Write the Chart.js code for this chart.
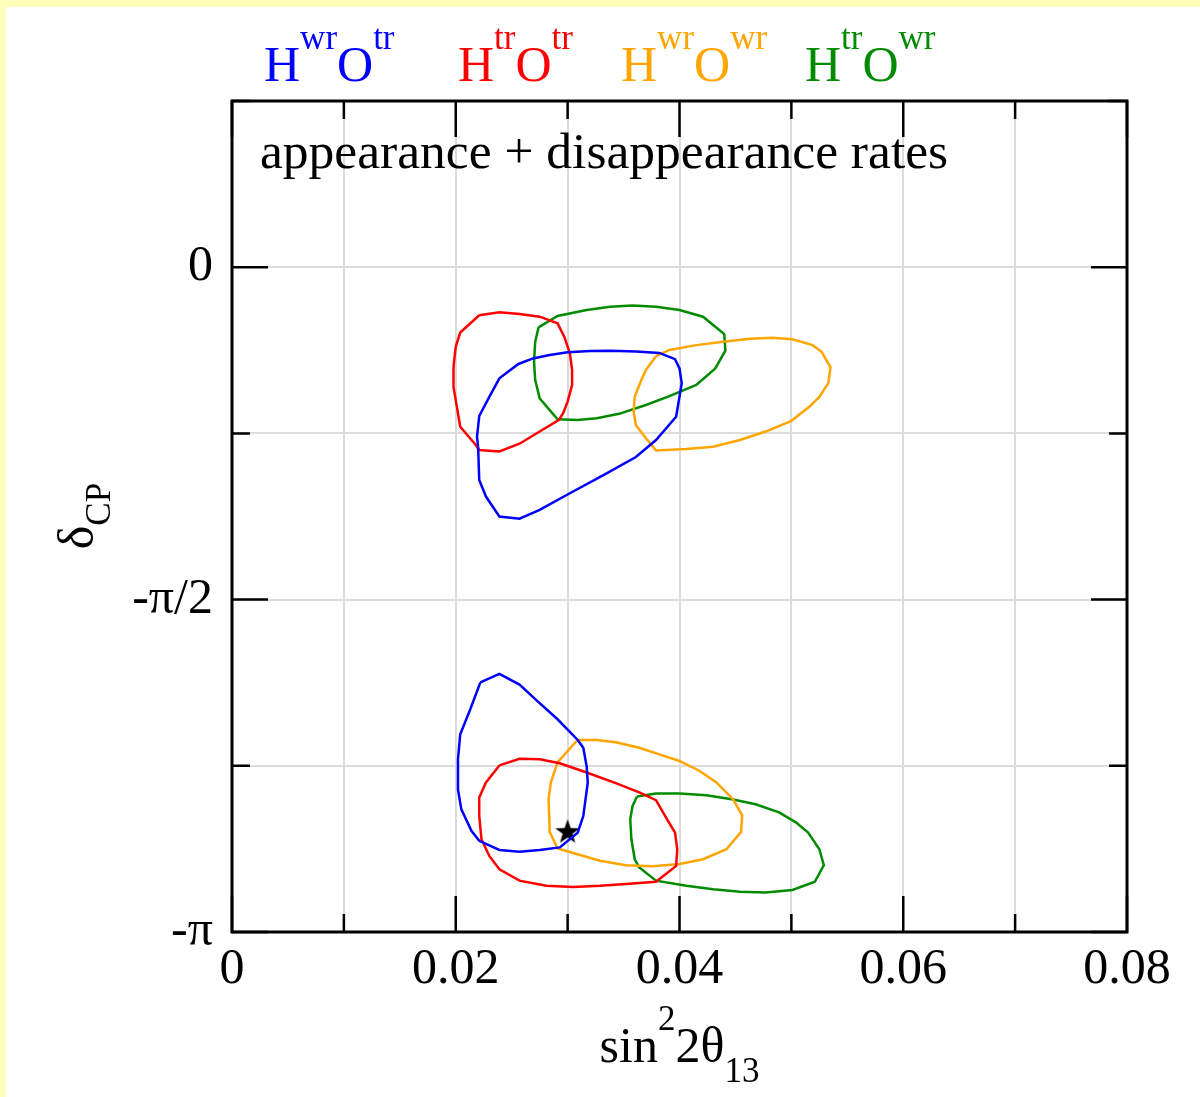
<!DOCTYPE html>
<html>
<head>
<meta charset="utf-8">
<script src="https://cdn.jsdelivr.net/npm/chart.js@4.4.1/dist/chart.umd.min.js"></script>
<style>
  html, body { margin: 0; padding: 0; background: #fff; }
  canvas { display: block; }
</style>
</head>
<body>
<canvas id="c" width="1200" height="1097"></canvas>
<script>
// sin^2(2 theta13) vs delta_CP (degrees), allowed regions for the four
// hierarchy / octant combinations

const xTicks = [0, 0.01, 0.02, 0.03, 0.04, 0.05, 0.06, 0.07, 0.08];
const xTickLabels = ['0', '', '0.02', '', '0.04', '', '0.06', '', '0.08'];
const yTicks = [-180, -135, -90, -45, 0, 45];
const yTickLabels = ['-π', '', '-π/2', '', '0', ''];

// [sin^2 2theta13, deltaCP in degrees]
const blueUpper = [
  [0.0220, -48.6], [0.0221, -57.6], [0.0227, -62.1], [0.0239, -67.5], [0.0257, -68.1],
  [0.0275, -65.7], [0.0302, -61.2], [0.0332, -56.3], [0.0361, -51.4], [0.0379, -46.8],
  [0.0397, -40.5], [0.0401, -33.2], [0.0402, -31.4], [0.0400, -27.4], [0.0396, -24.9],
  [0.0382, -23.2], [0.0361, -22.8], [0.0339, -22.6], [0.0320, -22.7], [0.0300, -23.0],
  [0.0284, -23.8], [0.0269, -24.7], [0.0256, -26.2], [0.0239, -30.1], [0.0230, -35.1],
  [0.0221, -40.3], [0.0219, -45.9]
];
const blueLower = [
  [0.0222, -112.4], [0.0239, -110.1], [0.0257, -113.0], [0.0273, -117.5], [0.0291, -122.4],
  [0.0309, -128.0], [0.0314, -130.1], [0.0317, -135.1], [0.0318, -139.5], [0.0316, -144.1],
  [0.0314, -148.6], [0.0309, -153.1], [0.0293, -157.1], [0.0275, -157.8], [0.0257, -158.3],
  [0.0239, -157.8], [0.0221, -155.3], [0.0214, -152.6], [0.0205, -146.8], [0.0202, -141.4],
  [0.0202, -133.2], [0.0204, -126.5], [0.0213, -119.7]
];
const redUpper = [
  [0.0221, -13.0], [0.0239, -12.2], [0.0257, -12.7], [0.0275, -13.4], [0.0291, -15.2],
  [0.0297, -18.8], [0.0302, -23.3], [0.0304, -27.8], [0.0304, -31.9], [0.0300, -36.4],
  [0.0296, -39.5], [0.0292, -41.4], [0.0275, -44.5], [0.0257, -47.8], [0.0239, -49.9],
  [0.0221, -49.5], [0.0217, -47.8], [0.0204, -43.2], [0.0201, -37.8], [0.0198, -32.4],
  [0.0198, -27.0], [0.0200, -21.5], [0.0204, -17.7]
];
const redLower = [
  [0.0239, -134.9], [0.0257, -133.1], [0.0275, -133.2], [0.0293, -134.3], [0.0317, -136.8],
  [0.0343, -139.7], [0.0364, -142.2], [0.0379, -144.3], [0.0388, -149.0], [0.0396, -153.1],
  [0.0398, -157.6], [0.0397, -162.1], [0.0379, -166.4], [0.0352, -167.0], [0.0329, -167.5],
  [0.0305, -167.8], [0.0281, -167.5], [0.0257, -166.1], [0.0239, -163.0], [0.0230, -159.4],
  [0.0223, -154.9], [0.0221, -148.6], [0.0221, -143.6], [0.0227, -139.5]
];
const orangeUpper = [
  [0.0379, -24.1], [0.0391, -22.4], [0.0415, -21.1], [0.0439, -20.2], [0.0463, -19.4],
  [0.0483, -19.1], [0.0501, -19.5], [0.0519, -21.1], [0.0527, -22.9], [0.0535, -27.1],
  [0.0533, -31.4], [0.0525, -35.1], [0.0516, -37.8], [0.0500, -41.6], [0.0477, -44.5],
  [0.0454, -46.8], [0.0430, -48.6], [0.0406, -49.2], [0.0379, -49.6], [0.0370, -46.3],
  [0.0361, -42.7], [0.0359, -39.1], [0.0360, -35.1], [0.0366, -30.5], [0.0370, -27.8]
];
const orangeLower = [
  [0.0309, -128.0], [0.0326, -128.0], [0.0343, -128.6], [0.0364, -130.1], [0.0382, -131.9],
  [0.0400, -133.7], [0.0418, -136.4], [0.0433, -139.5], [0.0448, -144.1], [0.0456, -148.4],
  [0.0455, -152.9], [0.0442, -157.6], [0.0421, -160.3], [0.0400, -161.6], [0.0376, -162.2],
  [0.0352, -161.9], [0.0329, -160.7], [0.0308, -158.9], [0.0291, -157.4], [0.0284, -152.9],
  [0.0283, -144.1], [0.0285, -139.5], [0.0291, -134.1], [0.0300, -131.0]
];
const greenUpper = [
  [0.0274, -16.3], [0.0291, -13.2], [0.0317, -11.6], [0.0338, -10.7], [0.0358, -10.4],
  [0.0379, -10.7], [0.0400, -11.6], [0.0421, -13.4], [0.0440, -18.1], [0.0441, -22.6],
  [0.0432, -27.4], [0.0415, -31.9], [0.0391, -34.9], [0.0370, -37.3], [0.0346, -39.7],
  [0.0326, -40.9], [0.0309, -41.4], [0.0291, -41.2], [0.0275, -35.5], [0.0271, -30.5],
  [0.0270, -25.6], [0.0271, -20.2]
];
const greenLower = [
  [0.0362, -143.3], [0.0379, -142.5], [0.0400, -142.5], [0.0424, -143.0], [0.0448, -144.1],
  [0.0468, -145.4], [0.0489, -147.6], [0.0504, -150.3], [0.0515, -153.1], [0.0525, -157.6],
  [0.0529, -161.9], [0.0521, -166.4], [0.0501, -168.6], [0.0477, -169.3], [0.0454, -169.1],
  [0.0430, -168.4], [0.0406, -167.5], [0.0379, -166.1], [0.0364, -162.5], [0.0360, -160.3],
  [0.0357, -154.9], [0.0356, -149.5], [0.0358, -145.9]
];
const bestFit = [[0.0300, -153.0]];

const legendParts = [
  [['H', 0], ['wr', 1], ['O', 0], ['tr', 1]],
  [['H', 0], ['tr', 1], ['O', 0], ['tr', 1]],
  [['H', 0], ['wr', 1], ['O', 0], ['wr', 1]],
  [['H', 0], ['tr', 1], ['O', 0], ['wr', 1]]
];
const xTitle = [['sin', 0], ['2', 1], ['2θ', 0], ['13', -1]];
const yTitle = [['δ', 0], ['CP', -1]];
const note = 'appearance + disappearance rates';

const BLUE = '#0000ff', RED = '#ff0000', ORANGE = '#ffa500', GREEN = '#008b00';
const SERIF = "'Liberation Serif', 'DejaVu Serif', serif";

function contour(pts, color) {
  return {
    data: pts.concat([pts[0]]).map(([x, y]) => ({ x, y })),
    showLine: true,
    borderColor: color,
    borderWidth: 2.5,
    pointRadius: 0,
    fill: false,
    tension: 0
  };
}

// filled five-point star used as the point marker
function starImage(r) {
  const c = document.createElement('canvas');
  c.width = c.height = 2 * r + 2;
  const g = c.getContext('2d');
  g.fillStyle = '#000';
  g.beginPath();
  for (let i = 0; i < 10; i++) {
    const rad = i % 2 ? r * 0.4 : r;
    const a = -Math.PI / 2 + i * Math.PI / 5;
    g.lineTo(r + 1 + rad * Math.cos(a), r + 1 + rad * Math.sin(a));
  }
  g.closePath();
  g.fill();
  return c;
}

// text runs with superscripts (1) and subscripts (-1)
function runWidth(ctx, parts, big, small) {
  let w = 0;
  for (const [t, s] of parts) {
    ctx.font = (s ? small : big) + 'px ' + SERIF;
    w += ctx.measureText(t).width;
  }
  return w;
}
function drawRun(ctx, parts, x, y, big, small, up, down) {
  for (const [t, s] of parts) {
    ctx.font = (s ? small : big) + 'px ' + SERIF;
    const dy = s === 1 ? -up : s === -1 ? down : 0;
    ctx.fillText(t, x, y + dy);
    x += ctx.measureText(t).width;
  }
}

const frame = {
  id: 'frame',
  beforeDraw(chart) {
    const ctx = chart.ctx;
    ctx.save();
    ctx.fillStyle = '#fff';
    ctx.fillRect(0, 0, chart.width, chart.height);
    ctx.fillStyle = '#ffffbb';
    ctx.fillRect(0, 0, chart.width, 7);
    ctx.fillRect(0, 0, 6, chart.height);
    ctx.restore();
  },
  beforeDatasetsDraw(chart) {
    const { ctx, chartArea: a, scales: { x, y } } = chart;
    ctx.save();
    ctx.strokeStyle = '#000';
    ctx.lineWidth = 2.5;
    ctx.beginPath();
    xTicks.forEach((v, i) => {
      const px = x.getPixelForValue(v);
      const len = xTickLabels[i] ? 36 : 18;
      ctx.moveTo(px, a.bottom); ctx.lineTo(px, a.bottom - len);
      ctx.moveTo(px, a.top); ctx.lineTo(px, a.top + len);
    });
    yTicks.forEach((v, i) => {
      const py = y.getPixelForValue(v);
      const len = yTickLabels[i] ? 36 : 18;
      ctx.moveTo(a.left, py); ctx.lineTo(a.left + len, py);
      ctx.moveTo(a.right, py); ctx.lineTo(a.right - len, py);
    });
    ctx.stroke();
    ctx.lineWidth = 3;
    ctx.strokeRect(a.left, a.top, a.right - a.left, a.bottom - a.top);
    ctx.restore();
  },
  afterDraw(chart) {
    const { ctx, chartArea: a } = chart;
    ctx.save();
    ctx.textBaseline = 'alphabetic';
    ctx.textAlign = 'left';

    // legend across the top
    const colors = [BLUE, RED, ORANGE, GREEN];
    const starts = [264, 458, 621, 805];
    legendParts.forEach((p, i) => {
      ctx.fillStyle = colors[i];
      drawRun(ctx, p, starts[i], 81, 50, 35, 32, 0);
    });

    ctx.fillStyle = '#000';
    ctx.font = '51.5px ' + SERIF;
    ctx.fillText(note, 260, 168);

    // x title
    const cx = (a.left + a.right) / 2;
    const wx = runWidth(ctx, xTitle, 50, 35);
    drawRun(ctx, xTitle, cx - wx / 2, 1062, 50, 35, 32, 20);

    // y title, rotated
    ctx.translate(93, 516);
    ctx.rotate(-Math.PI / 2);
    const wy = runWidth(ctx, yTitle, 50, 35);
    drawRun(ctx, yTitle, -wy / 2, 0, 50, 35, 0, 17);
    ctx.restore();
  }
};

new Chart(document.getElementById('c'), {
  type: 'scatter',
  data: {
    datasets: [
      contour(blueUpper, BLUE),
      contour(blueLower, BLUE),
      contour(redUpper, RED),
      contour(redLower, RED),
      contour(orangeUpper, ORANGE),
      contour(orangeLower, ORANGE),
      contour(greenUpper, GREEN),
      contour(greenLower, GREEN),
      {
        data: bestFit.map(([x, y]) => ({ x, y })),
        pointStyle: starImage(13),
        pointRadius: 13
      }
    ]
  },
  options: {
    responsive: false,
    animation: false,
    events: [],
    layout: { padding: { left: 0, top: 101, right: 73, bottom: 0 } },
    plugins: { legend: { display: false }, tooltip: { enabled: false } },
    scales: {
      x: {
        type: 'linear',
        min: 0,
        max: 0.08,
        afterBuildTicks: s => { s.ticks = xTicks.map(v => ({ value: v })); },
        afterFit: s => { s.height = 165; },
        grid: { color: '#dcdcdc', lineWidth: 2, drawTicks: false },
        border: { display: false },
        ticks: {
          color: '#000',
          padding: 8,
          maxRotation: 0,
          autoSkip: false,
          font: { family: SERIF, size: 50 },
          callback: (v, i) => xTickLabels[i]
        }
      },
      y: {
        type: 'linear',
        min: -180,
        max: 45,
        afterBuildTicks: s => { s.ticks = yTicks.map(v => ({ value: v })); },
        afterFit: s => { s.width = 232; },
        grid: { color: '#dcdcdc', lineWidth: 2, drawTicks: false },
        border: { display: false },
        ticks: {
          color: '#000',
          padding: 19,
          autoSkip: false,
          font: { family: SERIF, size: 50 },
          callback: (v, i) => yTickLabels[i]
        }
      }
    }
  },
  plugins: [frame]
});
</script>
</body>
</html>
